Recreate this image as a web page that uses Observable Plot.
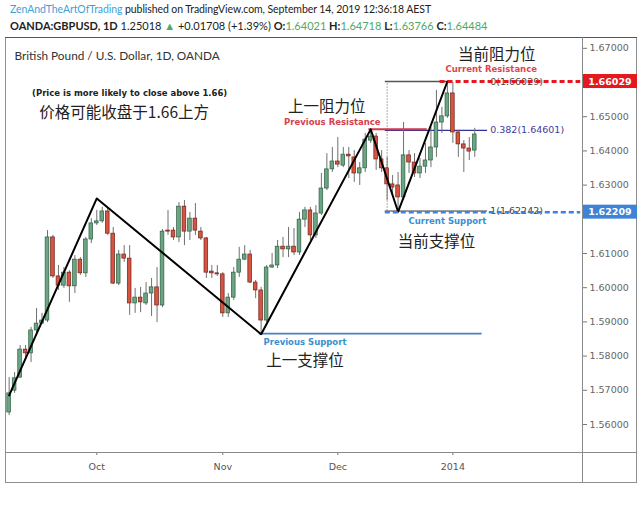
<!DOCTYPE html>
<html><head><meta charset="utf-8">
<script src="https://cdn.jsdelivr.net/npm/d3@7"></script>
<script src="https://cdn.jsdelivr.net/npm/@observablehq/plot@0.6"></script>
<style>
body{margin:0;background:#fff;}
#page{position:relative;width:640px;height:509px;overflow:hidden;background:#fff;}
.hdr{position:absolute;left:10px;white-space:nowrap;font-family:Lato,"Noto Sans",sans-serif;color:#222;}
#hdr1{top:3px;font-size:10.5px;letter-spacing:-0.08px;}
#hdr2{top:19px;font-size:11px;}
.hdr .g{color:#4fa865;}
.hdr .u{color:#3f9fd8;}
#chart{position:absolute;left:0;top:37px;}
</style></head>
<body><div id="page"><div id="hdr1" class="hdr"></div><div id="hdr2" class="hdr"></div><div id="chart"></div></div>
<script>
// ---------- header ----------
const author = "ZenAndTheArtOfTrading";
const published = " published on TradingView.com, September 14, 2019 12:36:18 AEST";
const symbol = "OANDA:GBPUSD, 1D";
const lastPrice = "1.25018";
const change = "+0.01708 (+1.39%)";
const ohlcKeys = ["O:", "H:", "L:", "C:"];
const ohlcVals = ["1.64021", "1.64718", "1.63766", "1.64484"];
const chartTitle = "British Pound / U.S. Dollar, 1D, OANDA";

// ---------- candles ----------
const dates = [
"2013-09-09","2013-09-10","2013-09-11","2013-09-12","2013-09-13","2013-09-16","2013-09-17","2013-09-18","2013-09-19","2013-09-20",
"2013-09-23","2013-09-24","2013-09-25","2013-09-26","2013-09-27","2013-09-30",
"2013-10-01","2013-10-02","2013-10-03","2013-10-04","2013-10-07","2013-10-08","2013-10-09","2013-10-10","2013-10-11","2013-10-14",
"2013-10-15","2013-10-16","2013-10-17","2013-10-18","2013-10-21","2013-10-22","2013-10-23","2013-10-24","2013-10-25","2013-10-28",
"2013-10-29","2013-10-30","2013-10-31",
"2013-11-01","2013-11-04","2013-11-05","2013-11-06","2013-11-07","2013-11-08","2013-11-11","2013-11-12","2013-11-13","2013-11-14",
"2013-11-15","2013-11-18","2013-11-19","2013-11-20","2013-11-21","2013-11-22","2013-11-25","2013-11-26","2013-11-27","2013-11-28","2013-11-29",
"2013-12-02","2013-12-03","2013-12-04","2013-12-05","2013-12-06","2013-12-09","2013-12-10","2013-12-11","2013-12-12","2013-12-13",
"2013-12-16","2013-12-17","2013-12-18","2013-12-19","2013-12-20","2013-12-23","2013-12-24","2013-12-26","2013-12-27","2013-12-30","2013-12-31",
"2014-01-02","2014-01-03","2014-01-06","2014-01-07","2014-01-08"];
// empty trading days to the right of the last candle (chart's future space)
const futureDates = ["2014-01-09","2014-01-10","2014-01-13","2014-01-14","2014-01-15","2014-01-16","2014-01-17",
"2014-01-20","2014-01-21","2014-01-22","2014-01-23","2014-01-24","2014-01-27","2014-01-28","2014-01-29",
"2014-01-30","2014-01-31","2014-02-03","2014-02-04"];
const opens = [1.5635,1.5699,1.5737,1.5819,1.5808,1.5875,1.5895,1.5904,1.6147,1.6033,
1.6006,1.6044,1.6004,1.6082,1.6042,1.6141,1.6188,1.6194,1.6223,1.6158,
1.6012,1.6097,1.6085,1.5954,1.5971,1.5954,1.5983,1.6001,1.5948,1.6167,
1.6167,1.6147,1.6237,1.6164,1.6202,1.6164,1.6144,1.6047,1.6042,1.6039,
1.5925,1.5971,1.6044,1.6082,1.6097,1.6015,1.5992,1.5904,1.6059,1.6065,
1.6120,1.6112,1.6120,1.6103,1.6199,1.6226,1.6153,1.6217,1.6290,1.6346,
1.6369,1.6357,1.6389,1.6381,1.6334,1.6349,1.6430,1.6442,1.6375,1.6349,
1.6302,1.6299,1.6264,1.6387,1.6366,1.6334,1.6354,1.6372,1.6410,1.6483,
1.6501,1.6568,1.6454,1.6419,1.6407,1.6401];
const highs = [1.5737,1.5752,1.5831,1.5831,1.5884,1.5939,1.5925,1.6167,1.6153,1.6065,
1.6059,1.6050,1.6094,1.6088,1.6147,1.6202,1.6226,1.6235,1.6232,1.6176,
1.6109,1.6123,1.6123,1.5998,1.6001,1.6015,1.6027,1.6059,1.6170,1.6226,
1.6176,1.6249,1.6255,1.6220,1.6246,1.6176,1.6147,1.6065,1.6065,1.6044,
1.5983,1.6059,1.6118,1.6123,1.6109,1.6021,1.6001,1.6065,1.6100,1.6138,
1.6147,1.6176,1.6173,1.6220,1.6235,1.6235,1.6240,1.6334,1.6392,1.6410,
1.6439,1.6410,1.6410,1.6401,1.6366,1.6451,1.6463,1.6451,1.6401,1.6381,
1.6328,1.6337,1.6483,1.6401,1.6392,1.6378,1.6422,1.6468,1.6577,1.6527,
1.6603,1.6600,1.6460,1.6430,1.6439,1.6466];
const lows = [1.5626,1.5691,1.5735,1.5787,1.5781,1.5866,1.5892,1.5898,1.6027,1.5992,
1.5998,1.5957,1.5983,1.6036,1.6030,1.6129,1.6182,1.6188,1.6153,1.6009,
1.6006,1.6074,1.5919,1.5925,1.5927,1.5948,1.5916,1.5898,1.5942,1.6153,
1.6138,1.6132,1.6123,1.6138,1.6153,1.6138,1.6027,1.6027,1.6033,1.5913,
1.5913,1.5963,1.6030,1.6080,1.6012,1.5968,1.5866,1.5898,1.6056,1.6056,
1.6088,1.6088,1.6094,1.6094,1.6176,1.6138,1.6144,1.6211,1.6284,1.6337,
1.6351,1.6351,1.6319,1.6308,1.6299,1.6337,1.6422,1.6343,1.6337,1.6255,
1.6270,1.6223,1.6255,1.6334,1.6322,1.6319,1.6334,1.6351,1.6381,1.6451,
1.6495,1.6422,1.6381,1.6337,1.6372,1.6381];
const closes = [1.5691,1.5735,1.5819,1.5808,1.5875,1.5895,1.5904,1.6147,1.6033,1.6006,
1.6044,1.6004,1.6082,1.6042,1.6141,1.6188,1.6194,1.6223,1.6158,1.6012,
1.6097,1.6085,1.5954,1.5971,1.5957,1.5983,1.6001,1.5948,1.6164,1.6164,
1.6147,1.6237,1.6164,1.6202,1.6167,1.6144,1.6044,1.6042,1.6039,1.5925,
1.5971,1.6044,1.6082,1.6097,1.6015,1.5992,1.5904,1.6059,1.6065,1.6120,
1.6112,1.6120,1.6103,1.6199,1.6226,1.6153,1.6217,1.6290,1.6346,1.6369,
1.6360,1.6389,1.6384,1.6334,1.6349,1.6433,1.6442,1.6375,1.6349,1.6302,
1.6293,1.6264,1.6387,1.6366,1.6334,1.6354,1.6372,1.6410,1.6483,1.6501,
1.6568,1.6454,1.6419,1.6407,1.6398,1.6448];

// ---------- axes ----------
const yTicks = [1.56,1.57,1.58,1.59,1.60,1.61,1.63,1.64,1.65,1.67];
const xTickDates = ["2013-10-01","2013-11-01","2013-12-02","2014-01-02"];
const xTickLabels = ["Oct","Nov","Dec","2014"];

// ---------- pattern (zigzag) ----------
const zigDates = ["2013-09-09","2013-10-01","2013-11-12","2013-12-10","2013-12-17","2013-12-31"];
const zigPrices = [1.5685,1.6261,1.5864,1.6463,1.6222,1.6603];

// ---------- levels ----------
const prevSupport = {price: 1.5866, from: "2013-11-12", to: "2014-01-09"};
const prevResistance = {price: 1.6463, from: "2013-12-10", to: "2013-12-24"};
const fibRatios = ["0", "0.382", "1"];
const fibPrices = [1.66029, 1.64601, 1.62242];
const fibFrom = "2013-12-13", fibTo = "2014-01-10", fibTopEnd = "2013-12-31", fibLabelAt = "2014-01-13";
const curResistance = {price: 1.66029, from: "2013-12-30", to: "2014-02-04"};
const curSupport = {price: 1.62209, from: "2013-12-13", to: "2014-02-04"};
const priceTags = [1.66029, 1.62209];
const priceTagColors = ["#e3191f", "#3f83d6"];

// ---------- annotations ----------
const cnTexts = ["价格可能收盘于1.66上方", "上一阻力位", "当前阻力位", "当前支撑位", "上一支撑位"];
const cnDates = ["2013-10-08", "2013-11-28", "2014-01-14", "2013-12-27", "2013-11-22"];
const cnPrices = [1.6512, 1.6527, 1.6679, 1.6135, 1.5787];
const enTexts = ["(Price is more likely to close above 1.66)", "Previous Resistance", "Current Resistance", "Current Support", "Previous Support"];
const enDates = ["2013-10-09", "2013-11-29", "2014-01-13", "2013-12-31", "2013-11-22"];
const enPrices = [1.6568, 1.6483, 1.6638, 1.6194, 1.5839];
const enColors = ["#222222", "#d6404e", "#e0454b", "#3b8fd0", "#3b8fd0"];

// ---------- header build ----------
document.getElementById("hdr1").innerHTML = `<span class="u">${author}</span>${published}`;
document.getElementById("hdr2").innerHTML =
  `<b>${symbol}</b> ${lastPrice} <span class="g">&#9650;</span> ${change} ` +
  ohlcKeys.map((k, i) => `<b>${k}</b><span class="g">${ohlcVals[i]}</span>`).join(" ");

// ---------- plot ----------
const rows = dates.map((d, i) => ({date: d, open: opens[i], high: highs[i], low: lows[i], close: closes[i]}));
const up = r => r.close >= r.open;
const zig = zigDates.map((d, i) => ({date: d, price: zigPrices[i]}));
const fibs = fibRatios.map((r, i) => ({ratio: r, price: fibPrices[i], label: `${r}(${fibPrices[i].toFixed(5)})`}));
const cn = cnTexts.map((t, i) => ({t, date: cnDates[i], price: cnPrices[i]}));
const en = enTexts.map((t, i) => ({t, date: enDates[i], price: enPrices[i], c: enColors[i]}));

const W = 640, H = 472, mT = 1, mR = 58, mB = 57, mL = 5;
const plot = Plot.plot({
  width: W, height: H,
  marginTop: mT, marginRight: mR, marginBottom: mB, marginLeft: mL,
  style: {fontFamily: "'DejaVu Sans', sans-serif", fontSize: "9.5px", color: "#555", background: "#fff", overflow: "visible"},
  x: {type: "band", domain: dates.concat(futureDates), padding: 0.33, label: null},
  y: {domain: [1.55181, 1.67287], label: null},
  marks: [
    Plot.axisX({ticks: xTickDates, tickFormat: d => xTickLabels[xTickDates.indexOf(d)], tickSize: 3, tickPadding: 8, label: null, stroke: "#777", fill: "#555"}),
    Plot.axisY({anchor: "right", ticks: yTicks, tickFormat: d => d.toFixed(5), tickSize: 4, tickPadding: 3, label: null, stroke: "#777", fill: "#666"}),
    // fib levels
    Plot.text(fibs, {x: () => fibLabelAt, y: "price", text: "label", textAnchor: "start", dx: -1, fill: d => d.ratio === "0.382" ? "#3c3ca0" : "#444", fontSize: 9.5, fontFamily: "'DejaVu Sans', sans-serif"}),
    Plot.ruleY([fibs[1]], {y: "price", x1: () => fibFrom, x2: () => fibTo, stroke: "#30309a", strokeWidth: 1.3}),
    Plot.ruleY([fibs[2]], {y: "price", x1: () => fibFrom, x2: () => fibTo, stroke: "#333", strokeWidth: 1}),
    Plot.ruleY([fibs[0]], {y: "price", x1: () => fibFrom, x2: () => fibTopEnd, stroke: "#555", strokeWidth: 1.6}),
    Plot.ruleX([fibFrom], {x: d => d, y1: fibPrices[2], y2: fibPrices[0], stroke: "#555", strokeDasharray: "1,2", strokeWidth: 1}),
    // previous resistance & support
    Plot.ruleY([prevResistance], {y: "price", x1: "from", x2: "to", stroke: "#d23a48", strokeWidth: 2}),
    Plot.ruleY([prevSupport], {y: "price", x1: "from", x2: "to", stroke: "#4a7fc4", strokeWidth: 1.8}),
    // candles
    Plot.ruleX(rows, {x: "date", y1: "low", y2: "high", stroke: "#707070", strokeWidth: 1}),
    Plot.barY(rows, {x: "date", y1: "open", y2: "close", fill: r => up(r) ? "#6ba583" : "#d75442", stroke: r => up(r) ? "#2d5e40" : "#6b2218", strokeWidth: 0.7}),
    // zigzag pattern
    Plot.line(zig, {x: "date", y: "price", stroke: "#000", strokeWidth: 2}),
    // current levels
    Plot.ruleY([curResistance], {y: "price", x1: "from", x2: "to", stroke: "#e3191f", strokeWidth: 3, strokeDasharray: "5,3"}),
    Plot.ruleY([curSupport], {y: "price", x1: "from", x2: "to", stroke: "#3f83d6", strokeWidth: 2.5, strokeDasharray: "5,3"}),
    // annotations
    Plot.text([chartTitle], {frameAnchor: "top-left", dx: 9, dy: 13, text: d => d, fontSize: 11.8, fontFamily: "Lato, sans-serif", fill: "#333", lineAnchor: "top"}),
    Plot.text(cn, {x: "date", y: "price", text: "t", fontSize: 15.5, fontFamily: "'Noto Sans CJK SC', sans-serif", fill: "#222"}),
    Plot.text(en, {x: "date", y: "price", text: "t", fill: "c", fontSize: 8.5, fontWeight: "bold", fontFamily: "'DejaVu Sans', sans-serif"})
  ]
});

const svg = d3.select(plot);
const ys = plot.scale("y");

// chart chrome: outer border, axis separators
const chrome = svg.append("g");
chrome.append("rect").attr("x", 5.5).attr("y", 0.5).attr("width", 631).attr("height", 445)
  .attr("fill", "none").attr("stroke", "#8f8f8f");
chrome.append("line").attr("x1", 5).attr("x2", 637).attr("y1", 0.5).attr("y2", 0.5).attr("stroke", "#555");
chrome.append("line").attr("x1", 5).attr("x2", 637).attr("y1", H - mB + 0.5).attr("y2", H - mB + 0.5).attr("stroke", "#8a8a8a");
chrome.append("line").attr("x1", W - mR + 0.5).attr("x2", W - mR + 0.5).attr("y1", 0).attr("y2", 445).attr("stroke", "#8a8a8a");

// price tags on the right axis (positioned with Plot's y scale)
priceTags.forEach((v, i) => {
  const yy = ys.apply(v);
  chrome.append("rect").attr("x", W - mR + 1).attr("y", yy - 7).attr("width", 54).attr("height", 14).attr("fill", priceTagColors[i]);
  chrome.append("text").attr("x", W - mR + 28).attr("y", yy + 3.5).attr("text-anchor", "middle")
    .attr("fill", "#fff").attr("font-weight", "bold").attr("font-size", 9.5)
    .attr("font-family", "'DejaVu Sans', sans-serif").text(v.toFixed(5));
});

document.getElementById("chart").appendChild(plot);
</script>
</body></html>
